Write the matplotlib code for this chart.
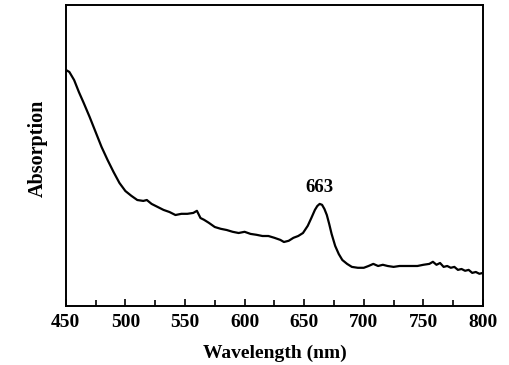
import matplotlib
matplotlib.use("Agg")
import matplotlib.pyplot as plt
from matplotlib.ticker import MultipleLocator

wavelength = [450, 453, 457, 461, 465, 470, 475, 480, 485, 490, 495, 500, 505, 510, 515, 518,
              522, 527, 532, 537, 542, 547, 552, 557, 560, 563, 566, 570, 575, 580, 585, 590,
              595, 600, 605, 610, 615, 620, 625, 630, 633, 637, 641, 645, 649, 653, 656, 659,
              661, 663, 665, 667, 669, 671, 673, 676, 679, 682, 686, 690, 695, 700, 704, 708,
              712, 716, 720, 725, 730, 735, 740, 745, 750, 755, 758, 761, 764, 767, 770, 773,
              776, 779, 782, 785, 788, 791, 794, 797, 800]
absorption = [0.787, 0.780, 0.753, 0.713, 0.677, 0.630, 0.580, 0.530, 0.487, 0.447, 0.410, 0.383,
              0.367, 0.353, 0.350, 0.353, 0.340, 0.330, 0.320, 0.313, 0.303, 0.307, 0.307, 0.310,
              0.317, 0.293, 0.287, 0.277, 0.263, 0.257, 0.253, 0.247, 0.243, 0.247, 0.240, 0.237,
              0.233, 0.233, 0.227, 0.220, 0.213, 0.217, 0.227, 0.233, 0.243, 0.267, 0.293, 0.320,
              0.333, 0.340, 0.337, 0.323, 0.303, 0.273, 0.240, 0.200, 0.173, 0.153, 0.140, 0.130,
              0.127, 0.127, 0.133, 0.140, 0.133, 0.137, 0.133, 0.130, 0.133, 0.133, 0.133, 0.133,
              0.137, 0.140, 0.147, 0.137, 0.143, 0.130, 0.133, 0.127, 0.130, 0.120, 0.123, 0.117,
              0.120, 0.110, 0.113, 0.107, 0.110]
peak_label = "663"
peak_x = 663
peak_y = 0.340

plt.rcParams['font.family'] = ['Liberation Serif', 'DejaVu Serif']
fig = plt.figure(figsize=(5.1, 3.65), dpi=100)
ax = fig.add_axes([0.129, 0.162, 0.818, 0.824])
ax.plot(wavelength, absorption, color='black', lw=1.6)
ax.set_xlim(450, 800)
ax.set_ylim(0, 1.003)
ax.xaxis.set_major_locator(MultipleLocator(50))
ax.xaxis.set_minor_locator(MultipleLocator(25))
ax.tick_params(axis='x', which='both', direction='in', top=False)
ax.tick_params(axis='x', which='major', length=5, width=1.2, labelsize=14, pad=6)
ax.tick_params(axis='x', which='minor', length=4, width=1.2)
ax.set_yticks([])
for lab in ax.get_xticklabels():
    lab.set_fontweight('bold')
for s in ax.spines.values():
    s.set_linewidth(1.4)
ax.set_xlabel("Wavelength (nm)", fontsize=14, fontweight='bold', labelpad=10)
ax.set_ylabel("Absorption", fontsize=14.5, fontweight='bold')
ax.yaxis.set_label_coords(-0.043, 0.525)
ax.annotate(peak_label, xy=(peak_x, peak_y), xytext=(0, 6), textcoords='offset points',
            ha='center', va='bottom', fontsize=13.5, fontweight='bold')
fig.savefig("out.png", dpi=100)
